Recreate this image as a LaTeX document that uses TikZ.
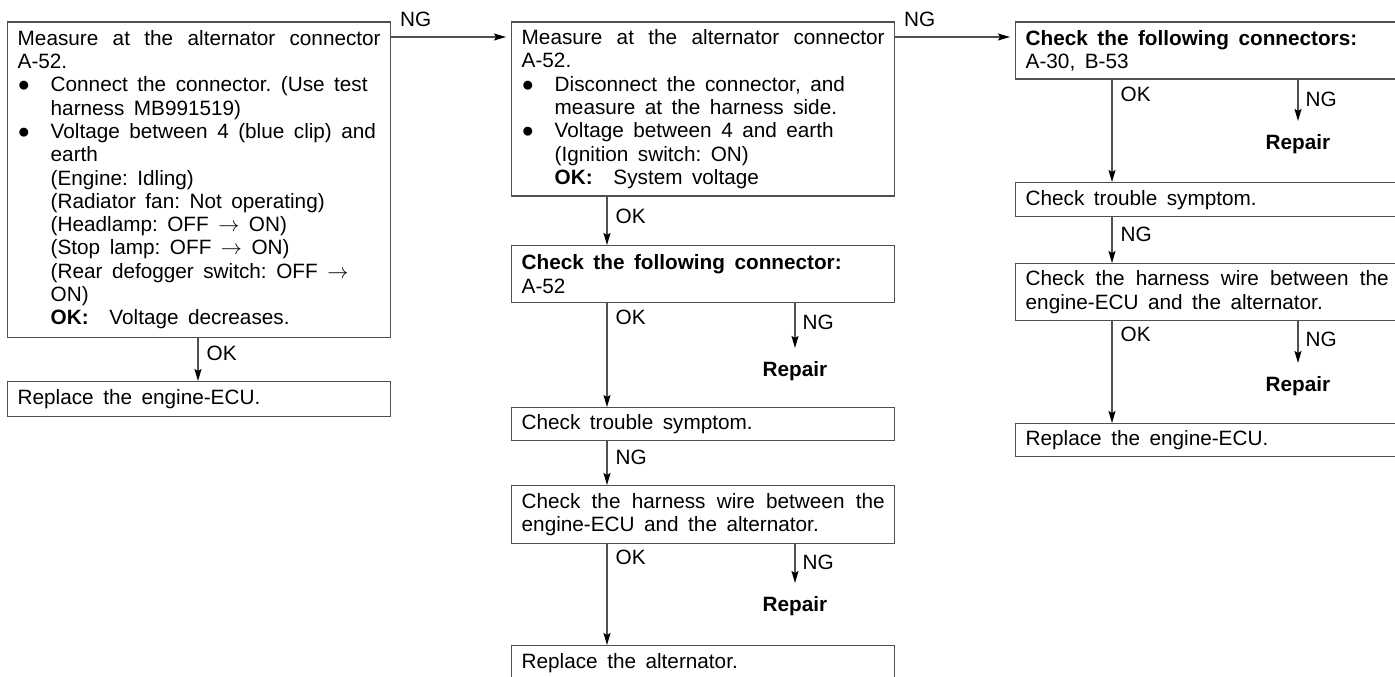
\documentclass[tikz,border=0pt]{standalone}
\usepackage{fontspec}
\setmainfont{Liberation Sans}[WordSpace={1.65,1.2,1}]
\usepackage{xcolor}
\definecolor{lngray}{RGB}{80,80,80}
\usetikzlibrary{arrows.meta,positioning,calc}

\newcommand{\bulletstep}[1]{\par\hangindent=0.66cm\hangafter=1\noindent\makebox[0.66cm][l]{●}#1\par}

\begin{document}
\frenchspacing
\begin{tikzpicture}[font=\fontsize{11.8}{13.25}\selectfont]
    \tikzset{stepbox/.style={rectangle, draw=lngray, line width=0.8pt, anchor=north west,
      text width=7.26cm, inner xsep=0.2cm, inner ysep=0.1cm, align=justify}}
    \tikzset{repair/.style={font=\fontsize{11.8}{13.25}\selectfont\bfseries, inner xsep=0.05cm, inner ysep=0.26cm}}
    \tikzset{arr/.style={-{Stealth[length=0.24cm,width=0.14cm,inset=0.04cm,black]}, draw=lngray, line width=0.8pt}}
    \tikzset{lbl/.style={anchor=base west, inner sep=0pt, pos=0, xshift=0.16cm}}

    \useasboundingbox (0,0) rectangle (27.9,-13.54);

    % Left column
    \node[stepbox, minimum height=6.30cm] (m1) at (0.14,-0.43)
      {Measure at the alternator connector\linebreak A-52.
       \bulletstep{Connect the connector. (Use test\\ harness MB991519)}
       \bulletstep{Voltage between 4 (blue clip) and\\ earth\\
         (Engine: Idling)\\
         (Radiator fan: Not operating)\\
         (Headlamp: OFF $\rightarrow$ ON)\\
         (Stop lamp: OFF $\rightarrow$ ON)\\
         (Rear defogger switch: OFF $\rightarrow$\\
         ON)\\
         \textbf{OK:}\quad Voltage decreases.}};
    \node[stepbox, minimum height=0.70cm] (e1) at (0.14,-7.62) {Replace the engine-ECU.};

    % Middle column
    \node[stepbox, minimum height=3.48cm] (m2) at (10.22,-0.43)
      {Measure at the alternator connector\linebreak A-52.
       \bulletstep{Disconnect the connector, and\\ measure at the harness side.}
       \bulletstep{Voltage between 4 and earth\\
         (Ignition switch: ON)\\
         \textbf{OK:}\quad System voltage}};
    \node[stepbox, minimum height=1.14cm] (k2) at (10.22,-4.90)
      {\textbf{Check the following connector:}\\ A-52};
    \node[stepbox, minimum height=0.66cm] (s2) at (10.22,-8.14) {Check trouble symptom.};
    \node[stepbox, minimum height=1.16cm] (h2) at (10.22,-9.70)
      {Check the harness wire between the\linebreak engine-ECU and the alternator.};
    \node[stepbox, minimum height=0.70cm] (r2) at (10.22,-12.90) {Replace the alternator.};

    % Right column
    \node[stepbox, minimum height=1.14cm] (k3) at (20.30,-0.43)
      {\textbf{Check the following connectors:}\\ A-30, B-53};
    \node[stepbox, minimum height=0.68cm] (s3) at (20.30,-3.64) {Check trouble symptom.};
    \node[stepbox, minimum height=1.14cm] (h3) at (20.30,-5.26)
      {Check the harness wire between the\linebreak engine-ECU and the alternator.};
    \node[stepbox, minimum height=0.66cm] (e3) at (20.30,-8.46) {Replace the engine-ECU.};

    % Repair ends
    \node[repair] (rp2a) at (15.90,-7.42) {Repair};
    \node[repair] (rp2b) at (15.90,-12.12) {Repair};
    \node[repair] (rp3a) at (25.96,-2.88) {Repair};
    \node[repair] (rp3b) at (25.96,-7.72) {Repair};

    \coordinate (c1) at (3.96,0);
    \coordinate (c2) at (12.14,0);
    \coordinate (c3) at (22.24,0);
    \coordinate (ng) at (0,-0.74);

    % NG to the next column
    \draw[arr, shorten >=0.1cm] (m1.east |- ng) -- node[lbl, yshift=0.2cm] {NG} (m2.west |- ng);
    \draw[arr, shorten >=0.1cm] (m2.east |- ng) -- node[lbl, yshift=0.2cm] {NG} (k3.west |- ng);

    % Down the columns
    \draw[arr] (m1.south -| c1) -- node[lbl, yshift=-0.46cm] {OK} (e1.north -| c1);

    \draw[arr] (m2.south -| c2) -- node[lbl, yshift=-0.54cm] {OK} (k2.north -| c2);
    \draw[arr] (k2.south -| c2) -- node[lbl, yshift=-0.42cm] {OK} (s2.north -| c2);
    \draw[arr] (s2.south -| c2) -- node[lbl, yshift=-0.46cm] {NG} (h2.north -| c2);
    \draw[arr] (h2.south -| c2) -- node[lbl, yshift=-0.40cm] {OK} (r2.north -| c2);
    \draw[arr] (rp2a |- k2.south) -- node[lbl, xshift=-0.02cm, yshift=-0.52cm] {NG} (rp2a.north);
    \draw[arr] (rp2b |- h2.south) -- node[lbl, xshift=-0.02cm, yshift=-0.50cm] {NG} (rp2b.north);

    \draw[arr] (k3.south -| c3) -- node[lbl, yshift=-0.44cm] {OK} (s3.north -| c3);
    \draw[arr] (s3.south -| c3) -- node[lbl, yshift=-0.48cm] {NG} (h3.north -| c3);
    \draw[arr] (h3.south -| c3) -- node[lbl, yshift=-0.40cm] {OK} (e3.north -| c3);
    \draw[arr] (rp3a |- k3.south) -- node[lbl, xshift=-0.02cm, yshift=-0.54cm] {NG} (rp3a.north);
    \draw[arr] (rp3b |- h3.south) -- node[lbl, xshift=-0.02cm, yshift=-0.50cm] {NG} (rp3b.north);
\end{tikzpicture}
\end{document}
